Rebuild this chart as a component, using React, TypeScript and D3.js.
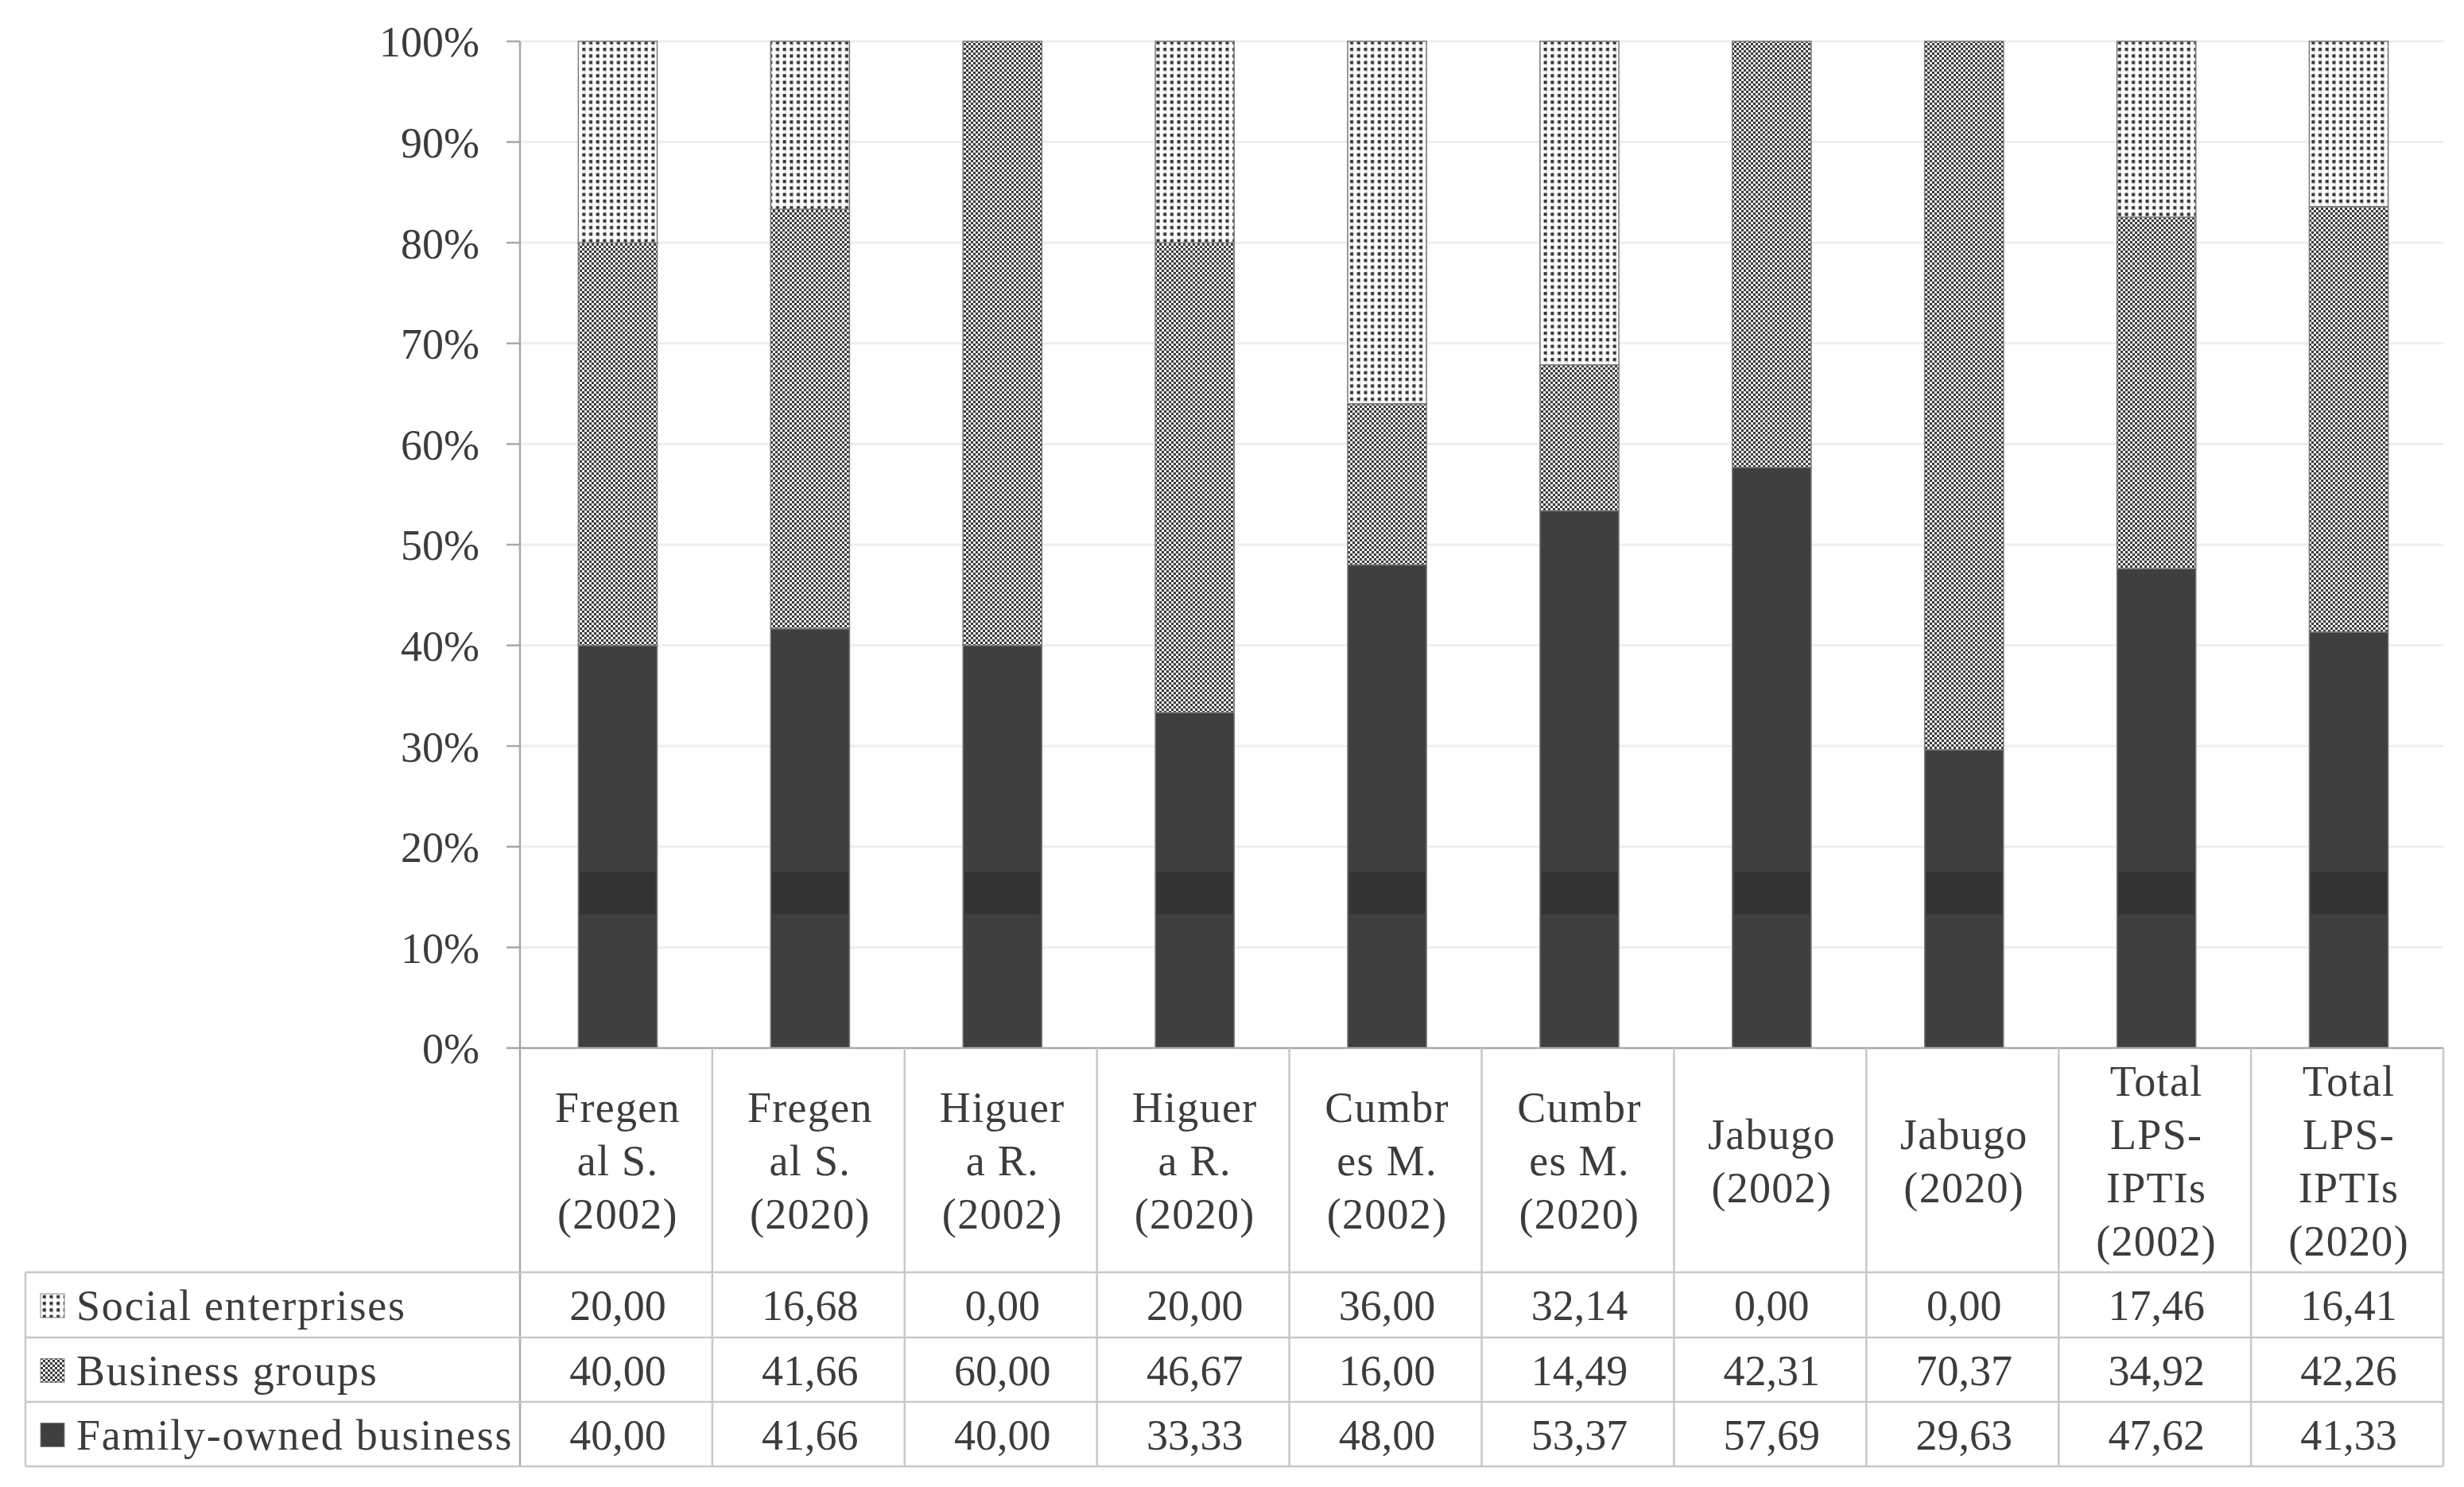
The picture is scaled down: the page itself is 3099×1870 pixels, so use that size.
import React from "react";
import * as d3 from "d3";

const categories: string[][] = [
  ["Fregen", "al S.", "(2002)"],
  ["Fregen", "al S.", "(2020)"],
  ["Higuer", "a R.", "(2002)"],
  ["Higuer", "a R.", "(2020)"],
  ["Cumbr", "es M.", "(2002)"],
  ["Cumbr", "es M.", "(2020)"],
  ["Jabugo", "(2002)"],
  ["Jabugo", "(2020)"],
  ["Total", "LPS-", "IPTIs", "(2002)"],
  ["Total", "LPS-", "IPTIs", "(2020)"],
];
const seriesNames = ["Social enterprises", "Business groups", "Family-owned business"];
const socialEnterprises = [20.0, 16.68, 0.0, 20.0, 36.0, 32.14, 0.0, 0.0, 17.46, 16.41];
const businessGroups = [40.0, 41.66, 60.0, 46.67, 16.0, 14.49, 42.31, 70.37, 34.92, 42.26];
const familyOwned = [40.0, 41.66, 40.0, 33.33, 48.0, 53.37, 57.69, 29.63, 47.62, 41.33];
const yTicks = [0, 0.1, 0.2, 0.3, 0.4, 0.5, 0.6, 0.7, 0.8, 0.9, 1.0];
// darker scan band visible across the dark segments of the reference
const darkBand = [0.133, 0.175];

const W = 3099;
const H = 1870;
const M = { left: 654, right: 3073, top: 52, bottom: 1318 };
const tableLeft = 32;
const rowLines = [1600, 1682, 1763, 1844];
const FONT = "'Liberation Serif', 'Times New Roman', serif";
const TXT = "#3c3c3c";

export default function App() {
  const keys = categories.map((c) => c.join(" "));
  const x = d3
    .scaleBand<string>()
    .domain(keys)
    .range([M.left, M.right])
    .paddingInner(0.59)
    .paddingOuter(0.295);
  const y = d3.scaleLinear().domain([0, 1]).range([M.bottom, M.top]);
  const step = x.step();

  const rows = keys.map((k, i) => {
    const tot = socialEnterprises[i] + businessGroups[i] + familyOwned[i];
    return {
      key: k,
      family: familyOwned[i] / tot,
      business: businessGroups[i] / tot,
      social: socialEnterprises[i] / tot,
    };
  });
  const stack = d3.stack<any>().keys(["family", "business", "social"]);
  const stacked = stack(rows);
  const fills: Record<string, string> = {
    family: "#3f3f3f",
    business: "url(#checker)",
    social: "url(#dots)",
  };

  const tableValues = [socialEnterprises, businessGroups, familyOwned];
  const legendFills = ["url(#dots)", "url(#checker)", "#3f3f3f"];
  const fmt = (v: number) => v.toFixed(2).replace(".", ",");

  return (
    <svg
      width={W}
      height={H}
      style={{ position: "absolute", left: 0, top: 0, display: "block", background: "#fff" }}
    >
      <defs>
        <pattern id="dots" patternUnits="userSpaceOnUse" width={8.7} height={8.3}>
          <rect width={8.7} height={8.3} fill="#fff" />
          <rect x={4.3} y={0} width={1.2} height={8.3} fill="#d8d8d8" />
          <rect x={1.5} y={2} width={4} height={4} fill="#2e2e2e" />
        </pattern>
        <pattern id="checker" patternUnits="userSpaceOnUse" width={6} height={6}>
          <rect width={6} height={6} fill="#f4f4f4" />
          <rect x={0} y={0} width={3} height={3} fill="#3a3a3a" />
          <rect x={3} y={3} width={3} height={3} fill="#3a3a3a" />
        </pattern>
      </defs>

      {/* gridlines */}
      {yTicks.slice(1).map((t) => (
        <line key={"g" + t} x1={M.left} x2={M.right} y1={y(t)} y2={y(t)} stroke="#eeeeee" strokeWidth={3} />
      ))}

      {/* bars */}
      {stacked.map((s) => (
        <g key={s.key}>
          {s.map((d, i) => {
            const h = y(d[0]) - y(d[1]);
            if (h <= 0.01) return null;
            return (
              <rect
                key={i}
                x={(x(keys[i]) as number) + 2}
                y={y(d[1])}
                width={x.bandwidth()}
                height={h}
                fill={fills[s.key]}
                stroke="#7a7a7a"
                strokeWidth={1.5}
              />
            );
          })}
        </g>
      ))}
      {rows.map((r, i) =>
        r.family > darkBand[1] ? (
          <rect
            key={"band" + i}
            x={(x(keys[i]) as number) + 4}
            y={y(darkBand[1])}
            width={x.bandwidth() - 4}
            height={y(darkBand[0]) - y(darkBand[1])}
            fill="#333333"
          />
        ) : null
      )}

      {/* y axis */}
      <line x1={M.left} x2={M.left} y1={M.top} y2={rowLines[3]} stroke="#a8a8a8" strokeWidth={2.5} />
      {yTicks.map((t) => (
        <g key={"t" + t}>
          <line x1={M.left - 17} x2={M.left} y1={y(t)} y2={y(t)} stroke="#a8a8a8" strokeWidth={2.5} />
          <text
            x={603}
            y={y(t)}
            dy="0.36em"
            textAnchor="end"
            fontFamily={FONT}
            fontSize={54}
            fill={TXT}
          >
            {d3.format(".0%")(t)}
          </text>
        </g>
      ))}
      <line x1={M.left} x2={M.right} y1={M.bottom} y2={M.bottom} stroke="#a8a8a8" strokeWidth={2.5} />

      {/* table grid */}
      {rowLines.map((ry) => (
        <line key={"r" + ry} x1={tableLeft} x2={M.right} y1={ry} y2={ry} stroke="#c8c8c8" strokeWidth={2.5} />
      ))}
      <line x1={tableLeft} x2={tableLeft} y1={rowLines[0]} y2={rowLines[3]} stroke="#c8c8c8" strokeWidth={2.5} />
      {keys.map((k, i) => (
        <line
          key={"v" + i}
          x1={M.left + step * (i + 1)}
          x2={M.left + step * (i + 1)}
          y1={M.bottom}
          y2={rowLines[3]}
          stroke="#c8c8c8"
          strokeWidth={2.5}
        />
      ))}

      {/* category headers */}
      {categories.map((lines, i) => {
        const cx = (x(keys[i]) as number) + x.bandwidth() / 2 + 2;
        const mid = (M.bottom + rowLines[0]) / 2;
        const lh = 67;
        return (
          <text
            key={"c" + i}
            textAnchor="middle"
            fontFamily={FONT}
            fontSize={54}
            fill={TXT}
            letterSpacing={1.3}
          >
            {lines.map((ln, j) => (
              <tspan key={j} x={cx} y={mid + (j - (lines.length - 1) / 2) * lh} dy="0.36em">
                {ln}
              </tspan>
            ))}
          </text>
        );
      })}

      {/* legend rows and values */}
      {seriesNames.map((name, r) => {
        const cy = (rowLines[r] + rowLines[r + 1]) / 2;
        return (
          <g key={"s" + r}>
            <rect x={51} y={cy - 14} width={30} height={30} fill={legendFills[r]} stroke="#888" strokeWidth={1} />
            <text
              x={96}
              y={cy}
              dy="0.36em"
              fontFamily={FONT}
              fontSize={54}
              fill={TXT}
              letterSpacing={1.8}
            >
              {name}
            </text>
            {tableValues[r].map((v, i) => (
              <text
                key={i}
                x={(x(keys[i]) as number) + x.bandwidth() / 2 + 2}
                y={cy}
                dy="0.36em"
                textAnchor="middle"
                fontFamily={FONT}
                fontSize={54}
                fill={TXT}
              >
                {fmt(v)}
              </text>
            ))}
          </g>
        );
      })}
    </svg>
  );
}
